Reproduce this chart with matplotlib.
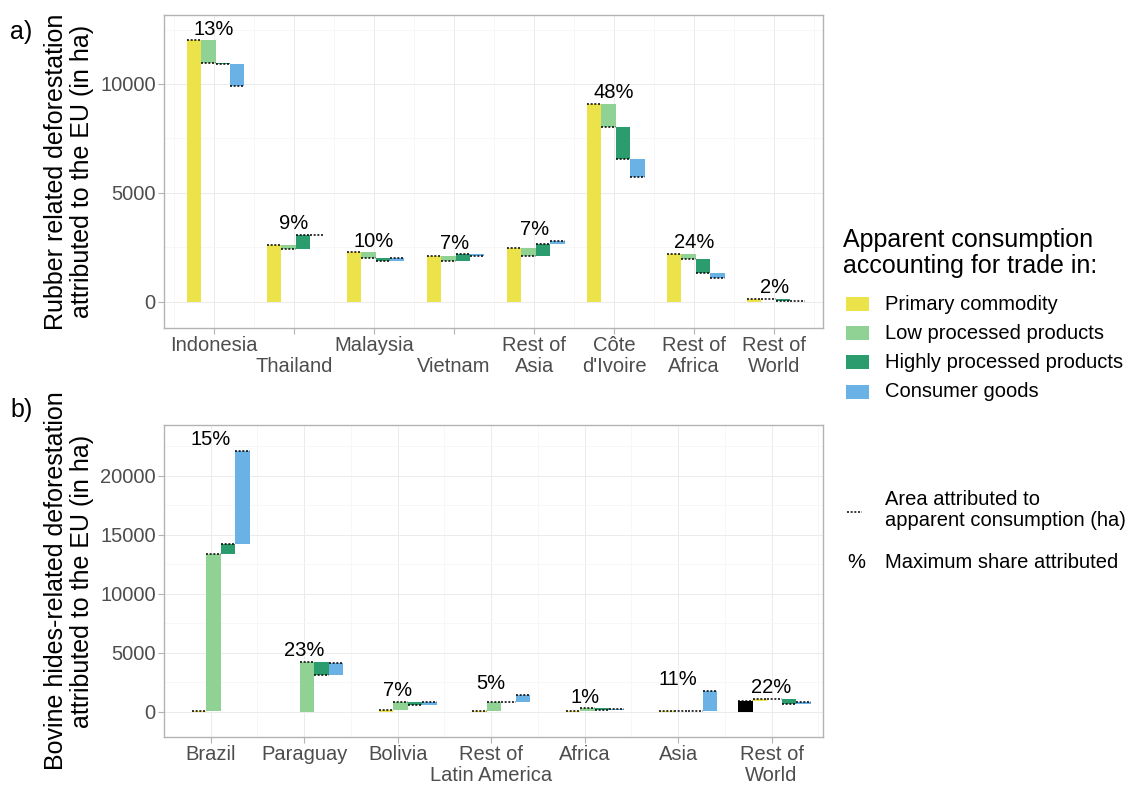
import numpy as np
import matplotlib.pyplot as plt
from matplotlib.patches import Rectangle
from matplotlib.lines import Line2D

plt.rcParams['font.family'] = ['Liberation Sans', 'DejaVu Sans']

# a) rubber: cumulative area after each trade step (ha)
rubber_countries = ["Indonesia", "\nThailand", "Malaysia", "\nVietnam", "Rest of\nAsia",
                    "Côte\nd'Ivoire", "Rest of\nAfrica", "Rest of\nWorld"]
rubber_primary = [12000, 2600, 2260, 2090, 2450, 9090, 2200, 110]
rubber_low = [10980, 2420, 1990, 1860, 2090, 8040, 1940, 110]
rubber_high = [10940, 3040, 1880, 2170, 2630, 6550, 1300, 40]
rubber_consumer = [9900, 3050, 2010, 2110, 2800, 5720, 1070, 40]
rubber_share = [13, 9, 10, 7, 7, 48, 24, 2]

# b) bovine hides
hides_countries = ["Brazil", "Paraguay", "Bolivia", "Rest of\nLatin America", "Africa",
                   "Asia", "Rest of\nWorld"]
hides_other = [np.nan, np.nan, np.nan, np.nan, np.nan, np.nan, 930]
hides_primary = [40, np.nan, 130, 120, 120, 60, 1100]
hides_low = [13400, 4260, 860, 880, 310, 60, 1100]
hides_high = [14260, 3100, 625, 880, 140, 80, 710]
hides_consumer = [22120, 4175, 845, 1470, 285, 1775, 845]
hides_share = [15, 23, 7, 5, 1, 11, 22]

step_names = ["Primary commodity", "Low processed products",
              "Highly processed products", "Consumer goods"]
step_colors = ["#ECE34B", "#8FD294", "#2B9C6E", "#6AB2E5"]

W, H = 1135, 787
fig = plt.figure(figsize=(W / 100, H / 100), dpi=100)


def fx(px):
    return px / W


def fy(py):
    return 1 - py / H


def waterfall(ax, levels, colors, offsets, width):
    n = len(levels[0])
    x = np.arange(1, n + 1)
    prev = np.zeros(n)
    for lev, col, off in zip(levels, colors, offsets):
        lev = np.array(lev, dtype=float)
        ok = ~np.isnan(lev)
        xs = x[ok] + off
        ax.bar(xs, lev[ok] - prev[ok], width=width, bottom=prev[ok], color=col,
               linewidth=0, zorder=2)
        ax.hlines(lev[ok], xs - width / 2, xs + width / 2, colors='black',
                  linestyles=(0, (1.3, 1.1)), linewidth=1.1, zorder=3)
        prev[ok] = lev[ok]
    return x


def style(ax, labels, ymajor, yminor, xlim, ylim):
    n = len(labels)
    ax.set_xlim(*xlim)
    ax.set_ylim(*ylim)
    ax.set_xticks(np.arange(1, n + 1))
    ax.set_xticklabels(labels, linespacing=1.08)
    ax.set_xticks(np.arange(0.5, n + 1, 1.0), minor=True)
    ax.set_yticks(ymajor)
    ax.set_yticks(yminor, minor=True)
    ax.grid(True, which='major', color='#EBEBEB', linewidth=0.7, zorder=0)
    ax.grid(True, which='minor', color='#F4F4F4', linewidth=0.5, zorder=0)
    ax.set_axisbelow(True)
    for s in ax.spines.values():
        s.set_color('#B3B3B3')
        s.set_linewidth(1.0)
    ax.tick_params(which='major', length=4, width=0.8, color='#B3B3B3',
                   labelsize=14.5, labelcolor='#4D4D4D', pad=2)
    ax.tick_params(which='minor', length=0)


def share_labels(ax, x, levels, shares):
    top = np.nanmax(np.array(levels, dtype=float), axis=0)
    for xi, t, s in zip(x, top, shares):
        ax.annotate(f"{s}%", (xi, t), xytext=(0, 1.2), textcoords='offset points',
                    ha='center', va='bottom', fontsize=14.5, color='black')


# panel a
ax_a = fig.add_axes([fx(164), fy(328), fx(823) - fx(164), fy(15) - fy(328)])
lev_a = [rubber_primary, rubber_low, rubber_high, rubber_consumer]
xa = waterfall(ax_a, lev_a, step_colors, [-0.25, -0.07, 0.11, 0.29], 0.18)
share_labels(ax_a, xa, lev_a, rubber_share)
style(ax_a, rubber_countries, [0, 5000, 10000], [2500, 7500, 12500],
      (0.375, 8.61), (-1218, 13172))
ax_a.set_ylabel("Rubber related deforestation\nattributed to the EU (in ha)",
                fontsize=18, linespacing=1.1)
ax_a.yaxis.set_label_coords(-0.144, 0.5)
ax_a.yaxis.label.set_verticalalignment('center')

# panel b
ax_b = fig.add_axes([fx(164), fy(737), fx(823) - fx(164), fy(425) - fy(737)])
lev_b = [hides_other, hides_primary, hides_low, hides_high, hides_consumer]
xb = waterfall(ax_b, lev_b, ["black"] + step_colors,
               [-0.28, -0.125, 0.03, 0.185, 0.34], 0.155)
share_labels(ax_b, xb, lev_b, hides_share)
style(ax_b, hides_countries, [0, 5000, 10000, 15000, 20000],
      [2500, 7500, 12500, 17500, 22500], (0.554, 7.55), (-2120, 24300))
ax_b.set_ylabel("Bovine hides-related deforestation\nattributed to the EU (in ha)",
                fontsize=18, linespacing=1.1)
ax_b.yaxis.set_label_coords(-0.144, 0.5)
ax_b.yaxis.label.set_verticalalignment('center')

fig.text(fx(10), fy(32), "a)", fontsize=18, va='center', ha='left')
fig.text(fx(10), fy(410), "b)", fontsize=18, va='center', ha='left')

# legend: trade steps
fig.text(fx(843), fy(253), "Apparent consumption\naccounting for trade in:",
         fontsize=18, va='center', ha='left', linespacing=1.12)
for i, (name, col) in enumerate(zip(step_names, step_colors)):
    yc = 304 + 29.2 * i
    fig.add_artist(Rectangle((fx(846), fy(yc + 7)), fx(869) - fx(846), fy(yc - 7) - fy(yc + 7),
                             transform=fig.transFigure, facecolor=col, edgecolor='none'))
    fig.text(fx(885), fy(yc), name, fontsize=14.5, va='center', ha='left')

# legend: dotted line and percent
fig.add_artist(Line2D([fx(847), fx(862)], [fy(512), fy(512)], transform=fig.transFigure,
                      color='black', linestyle=(0, (1.3, 1.1)), linewidth=1.1))
fig.text(fx(885), fy(510), "Area attributed to\napparent consumption (ha)",
         fontsize=14.5, va='center', ha='left', linespacing=1.15)
fig.text(fx(856), fy(562), "%", fontsize=14.5, va='center', ha='center')
fig.text(fx(885), fy(562), "Maximum share attributed", fontsize=14.5, va='center', ha='left')

fig.savefig('out.png', dpi=100)
